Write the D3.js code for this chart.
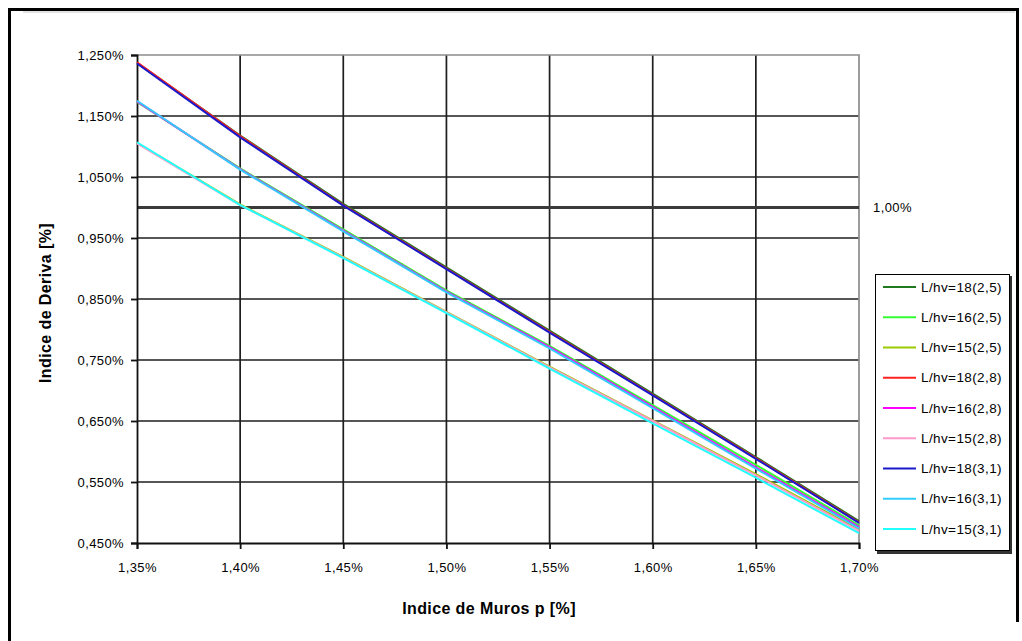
<!DOCTYPE html>
<html>
<head>
<meta charset="utf-8">
<script src="https://cdn.jsdelivr.net/npm/d3@7"></script>
<style>
  html, body { margin: 0; padding: 0; background: #fff; }
  svg { display: block; }
  text { font-family: "Liberation Sans", Arial, sans-serif; fill: #000; }
</style>
</head>
<body>
<svg id="chart" width="1022" height="641"></svg>
<script>
// ---- data ----
const xValues = [1.35, 1.40, 1.45, 1.50, 1.55, 1.60, 1.65, 1.70];
const seriesNames = ["L/hv=18(2,5)", "L/hv=16(2,5)", "L/hv=15(2,5)",
                     "L/hv=18(2,8)", "L/hv=16(2,8)", "L/hv=15(2,8)",
                     "L/hv=18(3,1)", "L/hv=16(3,1)", "L/hv=15(3,1)"];
const seriesColors = ["#1f7a1f", "#33ff33", "#99cc00",
                      "#ff2020", "#ff00ff", "#ff99cc",
                      "#1a1acc", "#33ccff", "#22ffff"];
const s18_25 = [1.237, 1.118, 1.006, 0.902, 0.798, 0.695, 0.591, 0.486];
const s16_25 = [1.173, 1.064, 0.964, 0.864, 0.773, 0.676, 0.578, 0.479];
const s15_25 = [1.106, 1.005, 0.919, 0.829, 0.739, 0.651, 0.563, 0.472];
const s18_28 = [1.238, 1.117, 1.004, 0.900, 0.796, 0.693, 0.589, 0.484];
const s16_28 = [1.174, 1.063, 0.962, 0.862, 0.771, 0.673, 0.574, 0.476];
const s15_28 = [1.105, 1.004, 0.918, 0.828, 0.738, 0.650, 0.561, 0.470];
const s18_31 = [1.236, 1.115, 1.003, 0.899, 0.795, 0.692, 0.588, 0.483];
const s16_31 = [1.175, 1.062, 0.961, 0.861, 0.769, 0.671, 0.572, 0.474];
const s15_31 = [1.107, 1.004, 0.917, 0.827, 0.736, 0.646, 0.557, 0.466];
const seriesValues = [s18_25, s16_25, s15_25, s18_28, s16_28, s15_28, s18_31, s16_31, s15_31];
const yTicks = [0.45, 0.55, 0.65, 0.75, 0.85, 0.95, 1.05, 1.15, 1.25];
const xTicks = [1.35, 1.40, 1.45, 1.50, 1.55, 1.60, 1.65, 1.70];
const refValue = 1.00;
const refLabel = "1,00%";
const xTitle = "Indice de Muros p [%]";
const yTitle = "Indice de Deriva [%]";

// ---- layout ----
const svg = d3.select("#chart");
const plot = { left: 137, right: 859, top: 55, bottom: 543 };
const x = d3.scaleLinear().domain([1.35, 1.70]).range([plot.left, plot.right]);
const y = d3.scaleLinear().domain([0.45, 1.25]).range([plot.bottom, plot.top]);
const fmtY = d => d3.format(".3f")(d).replace(".", ",") + "%";
const fmtX = d => d3.format(".2f")(d).replace(".", ",") + "%";

// outer frame (open at bottom)
svg.append("path")
  .attr("d", "M9.5,641 L9.5,9.5 L1017.5,9.5 L1017.5,622")
  .attr("fill", "none").attr("stroke", "#000").attr("stroke-width", 3);
svg.append("line").attr("x1", 23).attr("x2", 1015).attr("y1", 12).attr("y2", 12)
  .attr("stroke", "#c8c8c8").attr("stroke-width", 1);

// gridlines
const grid = svg.append("g");
grid.selectAll(".hg").data(yTicks.filter(d => d > 0.45 && d < 1.25)).join("line")
  .attr("x1", plot.left).attr("x2", plot.right)
  .attr("y1", d => y(d)).attr("y2", d => y(d))
  .attr("stroke", "#1e1e1e").attr("stroke-width", 1.7);
grid.selectAll(".vg").data(xTicks.filter(d => d > 1.35 && d < 1.70)).join("line")
  .attr("x1", d => x(d)).attr("x2", d => x(d))
  .attr("y1", plot.top).attr("y2", plot.bottom)
  .attr("stroke", "#1e1e1e").attr("stroke-width", 1.7);

// plot area border top/right (gray)
svg.append("path")
  .attr("d", `M${plot.left},${plot.top} L${plot.right},${plot.top} L${plot.right},${plot.bottom}`)
  .attr("fill", "none").attr("stroke", "#8c8c8c").attr("stroke-width", 1.7);

// reference line 1,00%
svg.append("line")
  .attr("x1", plot.left).attr("x2", plot.right)
  .attr("y1", y(refValue)).attr("y2", y(refValue))
  .attr("stroke", "#3a3a3a").attr("stroke-width", 3);
svg.append("text").attr("x", 873).attr("y", y(refValue)).attr("dy", "0.35em")
  .attr("font-size", 13).attr("letter-spacing", 0.4).text(refLabel);

// axes
const yAxis = d3.axisLeft(y).tickValues(yTicks).tickFormat(fmtY).tickSize(6).tickPadding(7);
const xAxis = d3.axisBottom(x).tickValues(xTicks).tickFormat(fmtX).tickSize(6).tickPadding(14);
const gy = svg.append("g").attr("transform", `translate(${plot.left},0)`).call(yAxis);
const gx = svg.append("g").attr("transform", `translate(0,${plot.bottom})`).call(xAxis);
[gy, gx].forEach(g => {
  g.select(".domain").attr("stroke", "#111").attr("stroke-width", 1.8);
  g.selectAll(".tick line").attr("stroke", "#111").attr("stroke-width", 1.8);
  g.selectAll(".tick text").attr("font-size", 13).attr("letter-spacing", 0.4)
    .attr("font-family", "'Liberation Sans', Arial, sans-serif").attr("fill", "#000");
});

// series lines
const line = d3.line().x((d, i) => x(xValues[i])).y(d => y(d));
const order = [0, 1, 2, 3, 4, 5, 6, 7, 8];
svg.append("g").selectAll("path").data(order).join("path")
  .attr("d", i => line(seriesValues[i]))
  .attr("fill", "none")
  .attr("stroke", i => seriesColors[i])
  .attr("stroke-width", 2);

// axis titles
svg.append("text").attr("x", 489).attr("y", 614)
  .attr("text-anchor", "middle").attr("font-size", 16).attr("font-weight", "bold")
  .attr("letter-spacing", 0.4)
  .text(xTitle);
svg.append("text").attr("transform", "translate(51,303) rotate(-90)")
  .attr("text-anchor", "middle").attr("font-size", 16).attr("font-weight", "bold")
  .attr("letter-spacing", 0.4)
  .text(yTitle);

// legend
const lg = svg.append("g");
lg.append("rect").attr("x", 877).attr("y", 276).attr("width", 135).attr("height", 278)
  .attr("fill", "#333");
lg.append("rect").attr("x", 875.5).attr("y", 274.5).attr("width", 134).attr("height", 276)
  .attr("fill", "#fff").attr("stroke", "#000").attr("stroke-width", 1);
const rowY = d3.scaleLinear().domain([0, 8]).range([287, 529]);
const items = lg.selectAll(".item").data(seriesNames).join("g")
  .attr("transform", (d, i) => `translate(0,${rowY(i)})`);
items.append("line").attr("x1", 883).attr("x2", 916).attr("y1", 0).attr("y2", 0)
  .attr("stroke", (d, i) => seriesColors[i]).attr("stroke-width", 2);
items.append("text").attr("x", 921).attr("y", 0).attr("dy", "0.35em")
  .attr("font-size", 13.5).attr("letter-spacing", 0.4).text(d => d);
</script>
</body>
</html>
